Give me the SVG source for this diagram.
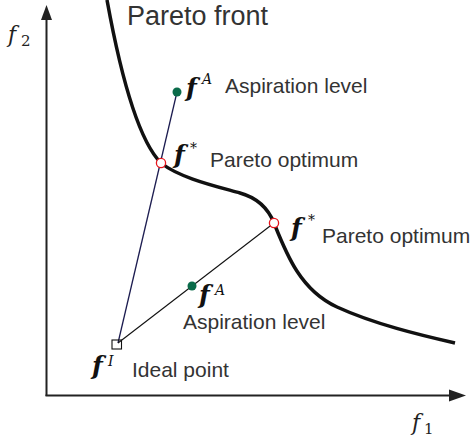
<svg xmlns="http://www.w3.org/2000/svg" width="475" height="443" viewBox="0 0 475 443">
<defs>
<style>
.lbl{font-family:"Liberation Sans",Arial,sans-serif;font-size:21px;fill:#333}
.fv{font-family:"DejaVu Serif","Liberation Serif",serif;font-style:italic;font-weight:bold;font-size:25px;fill:#111}
.sup{font-family:"DejaVu Serif","Liberation Serif",serif;font-style:italic;font-size:14px;fill:#111}
.ax{font-family:"DejaVu Serif","Liberation Serif",serif;font-style:italic;font-size:22px;fill:#222}
.sub{font-family:"DejaVu Serif","Liberation Serif",serif;font-size:15px;fill:#222}
.opt{fill:#fff;stroke:#e8141c;stroke-width:1.3}
.asp{fill:#0a6b4a}
</style>
</defs>
<g id="axes" stroke="#222" stroke-width="2" fill="#222">
<line x1="46.5" y1="396" x2="46.5" y2="18"/>
<polygon points="46.5,5 41,20 52,20" stroke="none"/>
<line x1="45.5" y1="395.5" x2="452" y2="395.5"/>
<polygon points="466,395.5 449,389.5 449,401.5" stroke="none"/>
</g>
<g id="axis-labels">
<text class="ax" x="8" y="42">f</text><text class="sub" x="21" y="46">2</text>
<text class="ax" x="412" y="430">f</text><text class="sub" x="424" y="434">1</text>
</g>
<g id="pareto-front">
<path d="M107,0 C119,66 136,138 161,163 C180,178 215,186 240,193 C258,198 268,208 274,223 C286,253 300,290 337,307 C374,324 420,335 455,343" fill="none" stroke="#111" stroke-width="3.5"/>
<text class="lbl" x="127" y="25" style="font-size:27px">Pareto front</text>
</g>
<g id="connectors">
<line x1="118" y1="343" x2="177" y2="92" stroke="#1c1c50" stroke-width="1.3"/>
<line x1="118" y1="343" x2="274" y2="223" stroke="#111" stroke-width="1.1"/>
</g>
<g id="ideal-point">
<rect x="112" y="340" width="9.5" height="9" fill="none" stroke="#111" stroke-width="1.1"/>
<text class="fv" x="92" y="374">f</text><text class="sup" x="108" y="366">I</text>
<text class="lbl" x="132" y="377">Ideal point</text>
</g>
<g id="aspiration-upper">
<circle class="asp" cx="177" cy="92" r="4.5"/>
<text class="fv" x="186" y="96">f</text><text class="sup" x="202" y="84">A</text>
<text class="lbl" x="225" y="93">Aspiration level</text>
</g>
<g id="optimum-upper">
<circle class="opt" cx="161" cy="163" r="4.6"/>
<text class="fv" x="174" y="163">f</text><text class="sup" x="190" y="153">*</text>
<text class="lbl" x="210" y="167">Pareto optimum</text>
</g>
<g id="optimum-lower">
<circle class="opt" cx="274" cy="223" r="4.6"/>
<text class="fv" x="291" y="236">f</text><text class="sup" x="308" y="225">*</text>
<text class="lbl" x="322" y="243">Pareto optimum</text>
</g>
<g id="aspiration-lower">
<circle class="asp" cx="192" cy="286" r="4.5"/>
<text class="fv" x="199" y="303">f</text><text class="sup" x="215" y="295">A</text>
<text class="lbl" x="183" y="329">Aspiration level</text>
</g>
</svg>
